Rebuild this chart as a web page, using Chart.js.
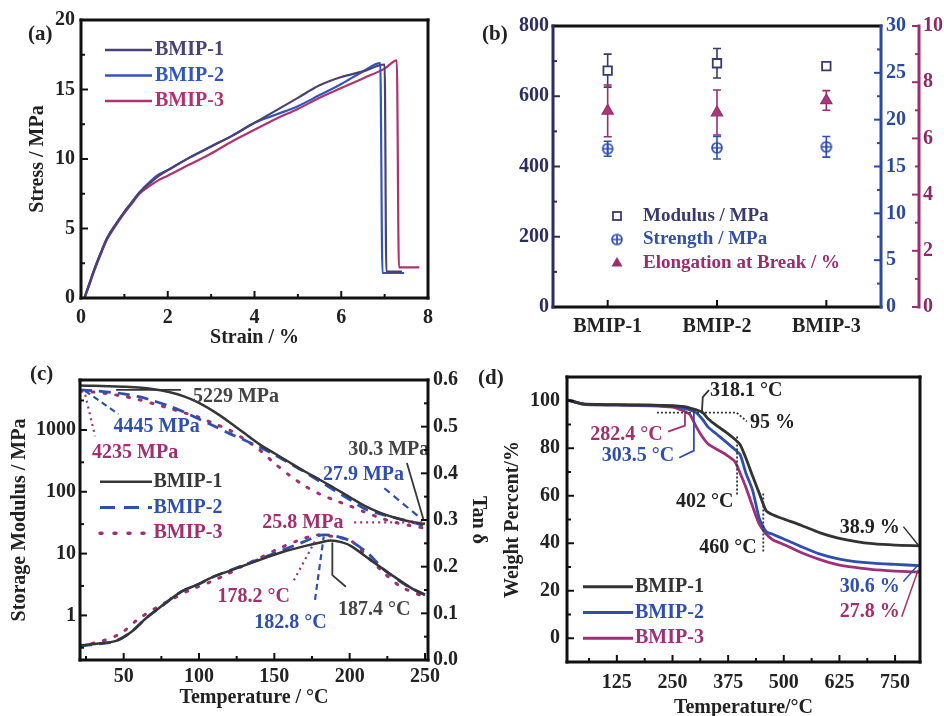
<!DOCTYPE html>
<html>
<head>
<meta charset="utf-8">
<script src="https://cdn.jsdelivr.net/npm/chart.js@4.4.1/dist/chart.umd.min.js"></script>
<style>
  body { margin: 0; width: 944px; height: 716px; overflow: hidden; background: #fff; position: relative; }
  canvas { position: absolute; }
  .tag { position: absolute; font: bold 21px "Liberation Serif", serif; color: #222; line-height: 24px; }
</style>
</head>
<body>
<canvas id="chartA" width="470" height="350" style="left:0;top:0"></canvas>
<canvas id="chartB" width="474" height="340" style="left:470px;top:0"></canvas>
<canvas id="chartC" width="500" height="376" style="left:0;top:340px"></canvas>
<canvas id="chartD" width="454" height="376" style="left:490px;top:344px"></canvas>
<div class="tag" style="left:28px;top:21px">(a)</div>
<div class="tag" style="left:482px;top:21px">(b)</div>
<div class="tag" style="left:30px;top:361px">(c)</div>
<div class="tag" style="left:478px;top:365px">(d)</div>
<script>
// ---- (a) tensile curves: strain (%) / stress (MPa)
const strainA1 = [0.08, 0.2, 0.3, 0.45, 0.6, 0.8, 1.0, 1.15, 1.35, 1.6, 1.8, 2.0, 2.5, 3.0, 3.5, 4.0, 4.5, 5.0, 5.5, 6.0, 6.5, 7.0, 7.04, 7.4];
const stressA1 = [0, 1.1, 2.0, 3.2, 4.3, 5.3, 6.2, 6.8, 7.6, 8.3, 8.8, 9.2, 10.1, 10.9, 11.7, 12.6, 13.5, 14.4, 15.3, 15.9, 16.3, 16.8, 1.9, 1.9];
const strainA2 = [0.08, 0.2, 0.3, 0.45, 0.6, 0.8, 1.0, 1.15, 1.35, 1.6, 1.8, 2.0, 2.5, 3.0, 3.5, 4.0, 4.5, 5.0, 5.5, 6.0, 6.5, 6.9, 6.95, 7.45];
const stressA2 = [0, 1.1, 2.0, 3.2, 4.3, 5.3, 6.2, 6.8, 7.6, 8.4, 8.9, 9.2, 10.1, 10.9, 11.7, 12.6, 13.2, 13.8, 14.6, 15.4, 16.3, 16.9, 1.8, 1.8];
const strainA3 = [0.08, 0.2, 0.3, 0.45, 0.6, 0.8, 1.0, 1.15, 1.35, 1.6, 1.8, 2.0, 2.5, 3.0, 3.5, 4.0, 4.5, 5.0, 5.5, 6.0, 6.5, 7.0, 7.28, 7.33, 7.8];
const stressA3 = [0, 1.0, 1.9, 3.1, 4.2, 5.2, 6.1, 6.7, 7.5, 8.1, 8.5, 8.8, 9.6, 10.4, 11.3, 12.1, 12.9, 13.6, 14.4, 15.1, 15.8, 16.5, 17.1, 2.2, 2.2];
const ticksAx = [0, 2, 4, 6, 8];
const ticksAy = [0, 5, 10, 15, 20];

// ---- (b) mechanical properties
const samples = ['BMIP-1', 'BMIP-2', 'BMIP-3'];
const modulus = [673, 694, 686];
const modulusErr = [47, 42, 10];
const strength = [16.9, 17.0, 17.1];
const strengthErr = [0.8, 1.2, 1.1];
const elongation = [6.98, 6.92, 7.35];
const elongationErr = [0.92, 0.8, 0.35];
const ticksBy = [0, 200, 400, 600, 800];
const ticksBy1 = [0, 5, 10, 15, 20, 25, 30];
const ticksBy2 = [0, 2, 4, 6, 8, 10];

// ---- (c) DMA: storage modulus (MPa) and tan delta
const dmaTemp = [21, 30, 40, 50, 60, 70, 80, 90, 100, 110, 120, 130, 140, 150, 160, 170, 180, 190, 200, 210, 220, 230, 240, 250];
const storage1 = [5229, 5180, 5100, 5000, 4850, 4550, 4100, 3500, 2750, 1980, 1350, 890, 590, 420, 300, 215, 158, 114, 82, 59, 46, 38, 33, 30.3];
const storage2 = [4445, 4300, 4100, 3850, 3450, 2950, 2450, 1950, 1500, 1160, 880, 690, 530, 400, 290, 210, 148, 105, 75, 53, 44, 38, 33, 27.9];
const storage3 = [4235, 4100, 3850, 3500, 3100, 2650, 2250, 1900, 1600, 1270, 1000, 710, 480, 290, 185, 125, 92, 73, 59, 47, 38, 32, 28.4, 25.8];
const tanTemp1 = [21, 35, 45, 55, 65, 75, 88, 100, 110, 122, 132, 145, 156, 170, 182, 187.4, 195, 201, 214, 228, 241, 250];
const tanDelta1 = [0.031, 0.036, 0.041, 0.06, 0.09, 0.115, 0.146, 0.163, 0.179, 0.193, 0.205, 0.22, 0.232, 0.244, 0.253, 0.256, 0.252, 0.244, 0.214, 0.182, 0.154, 0.139];
const tanTemp2 = [21, 35, 45, 55, 65, 75, 88, 100, 110, 122, 132, 145, 156, 170, 178, 182.8, 190, 200, 212, 223, 237, 250];
const tanDelta2 = [0.030, 0.035, 0.041, 0.06, 0.09, 0.115, 0.146, 0.163, 0.179, 0.194, 0.206, 0.222, 0.236, 0.254, 0.265, 0.268, 0.266, 0.256, 0.229, 0.193, 0.161, 0.14];
const tanTemp3 = [21, 35, 48, 59, 71, 83, 94, 108, 120, 128, 140, 151, 165, 178.2, 190, 201, 212, 223, 234, 250];
const tanDelta3 = [0.031, 0.04, 0.057, 0.086, 0.111, 0.132, 0.15, 0.168, 0.186, 0.2, 0.218, 0.236, 0.255, 0.268, 0.264, 0.255, 0.221, 0.186, 0.157, 0.135];
const ticksCx = [50, 100, 150, 200, 250];
const ticksCy = [1, 10, 100, 1000];
const ticksCy1 = [0, 0.1, 0.2, 0.3, 0.4, 0.5, 0.6];

// ---- (d) TGA: weight percent
const tgaTemp = [15, 50, 100, 150, 200, 250, 270, 282.4, 290, 303.5, 318.1, 330, 350, 370, 390, 402, 415, 430, 445, 460, 475, 500, 540, 580, 620, 660, 700, 750, 805];
const weight1 = [100.3, 98.7, 98.4, 98.3, 98.2, 97.9, 97.6, 97.3, 96.9, 96.2, 95.0, 92.4, 89.4, 86.8, 83.8, 81.5, 75.8, 68.3, 61.0, 53.8, 52.0, 50.2, 47.5, 44.5, 42.3, 40.8, 39.8, 39.2, 38.9];
const weight2 = [100.3, 98.6, 98.3, 98.2, 98.1, 97.7, 97.1, 96.5, 96.1, 95.0, 92.0, 88.9, 85.8, 82.7, 79.5, 77.3, 69.5, 62.3, 50.5, 45.0, 43.8, 41.8, 38.5, 35.5, 33.5, 32.3, 31.6, 31.1, 30.6];
const weight3 = [100.3, 98.5, 98.2, 98.1, 97.9, 97.3, 96.1, 95.0, 94.0, 89.0, 84.5, 81.8, 79.5, 77.3, 74.4, 69.5, 63.5, 55.5, 48.0, 44.0, 41.5, 39.5, 36.0, 33.2, 31.0, 29.8, 28.9, 28.3, 27.8];
const ticksDx = [125, 250, 375, 500, 625, 750];
const ticksDy = [0, 20, 40, 60, 80, 100];

const SERIF = '"Liberation Serif", "Times New Roman", serif';
const DARK = '#363636', BLUE = '#2f4fae', MAG = '#a2306f';

Chart.defaults.font.family = SERIF;
Chart.defaults.font.size = 20;
Chart.defaults.font.weight = 'bold';
Chart.defaults.color = '#222';
Chart.defaults.animation = false;
Chart.defaults.events = [];
Chart.defaults.plugins.legend.display = false;
Chart.defaults.plugins.tooltip.enabled = false;
Chart.defaults.elements.point.radius = 0;

const pairs = (xs, ys) => xs.map((x, i) => ({x: x, y: ys[i]}));
const fixW = w => s => { s.width = w; };
const fixH = h => s => { s.height = h; };
const setTicks = list => s => { s.ticks = list.map(v => ({value: v})); };
const axis = o => Object.assign({grid: {display: false, drawTicks: false}, border: {display: false}}, o);

// circle with cross, used for the strength marker
const strengthIcon = document.createElement('canvas');
strengthIcon.width = strengthIcon.height = 14;
(function () {
  const g = strengthIcon.getContext('2d');
  g.strokeStyle = '#2f50b0'; g.lineWidth = 1.7;
  g.beginPath(); g.arc(7, 7, 5, 0, Math.PI * 2); g.stroke();
  g.beginPath(); g.moveTo(2, 7); g.lineTo(12, 7); g.moveTo(7, 2); g.lineTo(7, 12); g.stroke();
})();

function drawMarker(ctx, kind, x, y, color) {
  ctx.save();
  ctx.strokeStyle = color; ctx.fillStyle = color; ctx.lineWidth = 1.8;
  if (kind === 'rect') {
    ctx.strokeRect(x - 4, y - 4, 8, 8);
  } else if (kind === 'circle') {
    ctx.drawImage(strengthIcon, x - 7, y - 7);
  } else {
    ctx.beginPath(); ctx.moveTo(x, y - 6); ctx.lineTo(x + 5.5, y + 3.5); ctx.lineTo(x - 5.5, y + 3.5); ctx.closePath();
    ctx.fill();
  }
  ctx.restore();
}

const deco = {
  id: 'deco',
  beforeDatasetsDraw(chart) {
    const ctx = chart.ctx;
    chart.data.datasets.forEach((ds, i) => {
      if (!ds.errorBars) return;
      const ys = chart.scales[ds.yAxisID];
      ctx.save();
      ctx.strokeStyle = ds.borderColor;
      ctx.lineWidth = 1.6;
      chart.getDatasetMeta(i).data.forEach((pt, j) => {
        const hi = ys.getPixelForValue(ds.data[j] + ds.errorBars[j]);
        const lo = ys.getPixelForValue(ds.data[j] - ds.errorBars[j]);
        ctx.beginPath();
        ctx.moveTo(pt.x, hi); ctx.lineTo(pt.x, lo);
        ctx.moveTo(pt.x - 4, hi); ctx.lineTo(pt.x + 4, hi);
        ctx.moveTo(pt.x - 4, lo); ctx.lineTo(pt.x + 4, lo);
        ctx.stroke();
      });
      ctx.restore();
    });
  },
  afterDraw(chart, args, o) {
    const ctx = chart.ctx, a = chart.chartArea, xs = chart.scales.x;
    ctx.save();
    (o.leaders || []).forEach(l => {
      const ys = chart.scales[l.axis || 'y'];
      ctx.strokeStyle = l.color;
      ctx.lineWidth = l.width || 1.8;
      ctx.setLineDash(l.dash || []);
      ctx.beginPath();
      l.pts.forEach((p, k) => {
        const px = xs.getPixelForValue(p[0]), py = ys.getPixelForValue(p[1]);
        if (k) ctx.lineTo(px, py); else ctx.moveTo(px, py);
      });
      ctx.stroke();
    });
    ctx.setLineDash([]);
    ctx.textBaseline = 'middle';
    ctx.font = 'bold 20px ' + SERIF;
    (o.notes || []).forEach(n => {
      const ys = chart.scales[n.axis || 'y'];
      ctx.fillStyle = n.color;
      ctx.textAlign = n.align || 'left';
      ctx.fillText(n.text, xs.getPixelForValue(n.x), ys.getPixelForValue(n.y));
    });
    if (o.legend) {
      const g = o.legend;
      ctx.font = 'bold ' + (g.size || 20) + 'px ' + SERIF;
      ctx.textAlign = 'left';
      g.items.forEach((it, k) => {
        const x = a.left + g.dx, y = a.top + g.dy + k * g.step;
        if (it.marker) {
          drawMarker(ctx, it.marker, x, y, it.color);
        } else {
          ctx.strokeStyle = it.color;
          ctx.lineWidth = it.width || 2.5;
          ctx.setLineDash(it.dash || []);
          ctx.lineCap = it.cap || 'butt';
          ctx.beginPath(); ctx.moveTo(x, y); ctx.lineTo(x + g.len, y); ctx.stroke();
          ctx.setLineDash([]); ctx.lineCap = 'butt';
        }
        ctx.fillStyle = it.color;
        ctx.fillText(it.text, x + g.textDx, y);
      });
    }
    // inward tick marks
    ctx.lineWidth = 2;
    (o.ticks || []).forEach(t => {
      const s = chart.scales[t.scale];
      ctx.strokeStyle = t.color || '#111';
      const mark = (v, len) => {
        const p = s.getPixelForValue(v);
        ctx.beginPath();
        if (t.side === 'bottom') { ctx.moveTo(p, a.bottom); ctx.lineTo(p, a.bottom - len); }
        else if (t.side === 'left') { ctx.moveTo(a.left, p); ctx.lineTo(a.left + len, p); }
        else { ctx.moveTo(s.left, p); ctx.lineTo(s.left - len, p); }
        ctx.stroke();
      };
      t.major.forEach(v => mark(v, 7));
      (t.minor || []).forEach(v => mark(v, 4));
    });
    // frame
    const f = o.frame || {};
    ctx.lineWidth = 3; ctx.lineCap = 'square';
    const side = (c, x1, y1, x2, y2) => { ctx.strokeStyle = c; ctx.beginPath(); ctx.moveTo(x1, y1); ctx.lineTo(x2, y2); ctx.stroke(); };
    side(f.top || '#111', a.left, a.top, a.right, a.top);
    side(f.bottom || '#111', a.left, a.bottom, a.right, a.bottom);
    side(f.left || '#111', a.left, a.top, a.left, a.bottom);
    side(f.right || '#111', a.right, a.top, a.right, a.bottom);
    (o.extraAxes || []).forEach(e => {
      const s = chart.scales[e.scale];
      side(e.color, s.left, a.top, s.left, a.bottom);
    });
    ctx.restore();
  }
};

// ---------- (a)
new Chart(document.getElementById('chartA'), {
  type: 'line',
  data: {datasets: [
    {data: pairs(strainA1, stressA1), borderColor: '#4a4174', borderWidth: 2.2, cubicInterpolationMode: 'monotone'},
    {data: pairs(strainA2, stressA2), borderColor: '#2f55c0', borderWidth: 2.2, cubicInterpolationMode: 'monotone'},
    {data: pairs(strainA3, stressA3), borderColor: '#b0336f', borderWidth: 2.2, cubicInterpolationMode: 'monotone'}
  ]},
  options: {
    responsive: false,
    layout: {padding: {top: 20, right: 42, bottom: 0, left: 0}},
    scales: {
      x: axis({type: 'linear', min: 0, max: 8, afterBuildTicks: setTicks(ticksAx), afterFit: fixH(52),
        ticks: {padding: 8, maxRotation: 0, autoSkip: false},
        title: {display: true, text: 'Strain / %', padding: 0}}),
      y: axis({type: 'linear', min: 0, max: 20, afterBuildTicks: setTicks(ticksAy), afterFit: fixW(81),
        ticks: {padding: 6, autoSkip: false},
        title: {display: true, text: 'Stress / MPa', padding: {top: 26, bottom: 0}}})
    },
    plugins: {deco: {
      legend: {dx: 24, dy: 30, step: 25.5, len: 47, textDx: 50, items: [
        {text: 'BMIP-1', color: '#4a4174'},
        {text: 'BMIP-2', color: '#2f55c0'},
        {text: 'BMIP-3', color: '#b0336f'}
      ]},
      ticks: [
        {scale: 'x', side: 'bottom', major: ticksAx, minor: [1, 3, 5, 7]},
        {scale: 'y', side: 'left', major: ticksAy, minor: [2.5, 7.5, 12.5, 17.5]}
      ]
    }}
  },
  plugins: [deco]
});

// ---------- (b)
new Chart(document.getElementById('chartB'), {
  type: 'line',
  data: {labels: samples, datasets: [
    {data: modulus, errorBars: modulusErr, yAxisID: 'y', showLine: false, pointStyle: 'rect', pointRadius: 6,
      borderColor: '#3b3b6b', backgroundColor: '#fff', pointBorderWidth: 1.8},
    {data: strength, errorBars: strengthErr, yAxisID: 'y1', showLine: false, pointStyle: strengthIcon, pointRadius: 7,
      borderColor: '#2f50b0', backgroundColor: '#2f50b0'},
    {data: elongation, errorBars: elongationErr, yAxisID: 'y2', showLine: false, pointStyle: 'triangle', pointRadius: 6.5,
      borderColor: '#9c2d6d', backgroundColor: '#a8387a', pointBorderWidth: 1.2}
  ]},
  options: {
    responsive: false,
    layout: {padding: {top: 26, right: 0, bottom: 0, left: 0}},
    scales: {
      x: axis({type: 'category', offset: true, afterFit: fixH(33), ticks: {padding: 8, maxRotation: 0, autoSkip: false}}),
      y: axis({position: 'left', min: 0, max: 800, afterBuildTicks: setTicks(ticksBy), afterFit: fixW(83),
        ticks: {padding: 4, color: '#2d2d5e'}}),
      y1: axis({position: 'right', weight: 0, min: 0, max: 30, afterBuildTicks: setTicks(ticksBy1), afterFit: fixW(38),
        ticks: {padding: 5, color: '#2a4aa0'}}),
      y2: axis({position: 'right', weight: 1, min: 0, max: 10, afterBuildTicks: setTicks(ticksBy2), afterFit: fixW(25),
        ticks: {padding: 4, color: '#8c2a68'}})
    },
    plugins: {deco: {
      legend: {dx: 64, dy: 190, step: 23.5, textDx: 26, size: 19, items: [
        {text: 'Modulus / MPa', color: '#3b3b6b', marker: 'rect'},
        {text: 'Strength / MPa', color: '#2f50b0', marker: 'circle'},
        {text: 'Elongation at Break / %', color: '#9c2d6d', marker: 'tri'}
      ]},
      ticks: [
        {scale: 'x', side: 'bottom', major: [0, 1, 2]},
        {scale: 'y', side: 'left', major: ticksBy, minor: [100, 300, 500, 700], color: '#2d2d5e'},
        {scale: 'y1', side: 'right', major: ticksBy1, minor: [2.5, 7.5, 12.5, 17.5, 22.5, 27.5], color: '#2a4aa0'},
        {scale: 'y2', side: 'right', major: ticksBy2, minor: [1, 3, 5, 7, 9], color: '#9a2f70'}
      ],
      frame: {left: '#2d2d5e', right: '#2a4aa0'},
      extraAxes: [{scale: 'y2', color: '#9a2f70'}]
    }}
  },
  plugins: [deco]
});

// ---------- (c)
new Chart(document.getElementById('chartC'), {
  type: 'line',
  data: {datasets: [
    {data: pairs(dmaTemp, storage1), yAxisID: 'y', borderColor: DARK, borderWidth: 2.5, tension: 0.3},
    {data: pairs(dmaTemp, storage2), yAxisID: 'y', borderColor: BLUE, borderWidth: 2.8, borderDash: [12, 7], tension: 0.3},
    {data: pairs(dmaTemp, storage3), yAxisID: 'y', borderColor: MAG, borderWidth: 3, borderDash: [2, 10], borderCapStyle: 'round', tension: 0.3},
    {data: pairs(tanTemp1, tanDelta1), yAxisID: 'y1', borderColor: DARK, borderWidth: 2.5, tension: 0.3},
    {data: pairs(tanTemp2, tanDelta2), yAxisID: 'y1', borderColor: BLUE, borderWidth: 2.8, borderDash: [12, 7], tension: 0.3},
    {data: pairs(tanTemp3, tanDelta3), yAxisID: 'y1', borderColor: MAG, borderWidth: 3, borderDash: [2, 10], borderCapStyle: 'round', tension: 0.3}
  ]},
  options: {
    responsive: false,
    layout: {padding: {top: 40, right: 0, bottom: 0, left: 0}},
    scales: {
      x: axis({type: 'linear', min: 21, max: 252, afterBuildTicks: setTicks(ticksCx), afterFit: fixH(56),
        ticks: {padding: 5, maxRotation: 0, autoSkip: false},
        title: {display: true, text: 'Temperature / °C', padding: {top: 0, bottom: 6}}}),
      y: axis({type: 'logarithmic', position: 'left', min: 0.19, max: 6430, afterBuildTicks: setTicks(ticksCy), afterFit: fixW(80),
        ticks: {padding: 4, autoSkip: false, callback: v => String(v)},
        title: {display: true, text: 'Storage Modulus / MPa', padding: {top: 8, bottom: 0}}}),
      y1: axis({type: 'linear', position: 'right', min: 0, max: 0.6, afterBuildTicks: setTicks(ticksCy1), afterFit: fixW(72),
        ticks: {padding: 5, autoSkip: false, callback: v => v.toFixed(1)},
        title: {display: true, text: 'Tan δ', padding: {top: 10, bottom: 0}}})
    },
    plugins: {deco: {
      leaders: [
        {pts: [[45, 4450], [88, 4450]], color: DARK},
        {pts: [[24.5, 4270], [46.5, 1810]], color: BLUE, dash: [6, 4], width: 2.2},
        {pts: [[24.5, 3700], [31, 790]], color: MAG, dash: [2, 4], width: 2.2},
        {pts: [[238, 293], [249, 35.5]], color: DARK},
        {pts: [[223, 114], [245.6, 40]], color: BLUE, dash: [7, 5], width: 2.2},
        {pts: [[203, 32], [249, 32]], color: MAG, dash: [2, 4], width: 2.2},
        {pts: [[163, 0.171], [178.2, 0.262]], axis: 'y1', color: MAG, dash: [2, 4], width: 2.2},
        {pts: [[177, 0.129], [182.8, 0.265]], axis: 'y1', color: BLUE, dash: [6, 4], width: 2.2},
        {pts: [[188.5, 0.252], [188.5, 0.182], [197.5, 0.157]], axis: 'y1', color: DARK}
      ],
      notes: [
        {text: '5229 MPa', x: 96, y: 3415, color: '#444'},
        {text: '4445 MPa', x: 43.3, y: 1130, color: BLUE},
        {text: '4235 MPa', x: 29, y: 425, color: MAG},
        {text: '30.3 MPa', x: 199, y: 481, color: '#444'},
        {text: '27.9 MPa', x: 182.3, y: 190, color: BLUE},
        {text: '25.8 MPa', x: 142, y: 32, color: MAG},
        {text: '178.2 °C', x: 112.2, y: 0.136, axis: 'y1', color: MAG},
        {text: '182.8 °C', x: 136.7, y: 0.079, axis: 'y1', color: BLUE},
        {text: '187.4 °C', x: 192.2, y: 0.107, axis: 'y1', color: '#444'}
      ],
      legend: {dx: 20, dy: 101.7, step: 25.8, len: 52, textDx: 53.5, items: [
        {text: 'BMIP-1', color: DARK, width: 2.5},
        {text: 'BMIP-2', color: BLUE, width: 3, dash: [15, 9]},
        {text: 'BMIP-3', color: MAG, width: 3.5, dash: [2, 12], cap: 'round'}
      ]},
      ticks: [
        {scale: 'x', side: 'bottom', major: ticksCx, minor: [25, 75, 125, 175, 225]},
        {scale: 'y', side: 'left', major: ticksCy, minor: [0.3, 3, 30, 300, 3000]},
        {scale: 'y1', side: 'right', major: ticksCy1, minor: [0.05, 0.15, 0.25, 0.35, 0.45, 0.55]}
      ]
    }}
  },
  plugins: [deco]
});

// ---------- (d)
new Chart(document.getElementById('chartD'), {
  type: 'line',
  data: {datasets: [
    {data: pairs(tgaTemp, weight1), borderColor: '#333', borderWidth: 2.8, tension: 0.2},
    {data: pairs(tgaTemp, weight2), borderColor: '#2e4fb0', borderWidth: 2.8, tension: 0.2},
    {data: pairs(tgaTemp, weight3), borderColor: '#9e2f78', borderWidth: 2.8, tension: 0.2}
  ]},
  options: {
    responsive: false,
    layout: {padding: {top: 33, right: 24, bottom: 0, left: 0}},
    scales: {
      x: axis({type: 'linear', min: 13, max: 806, afterBuildTicks: setTicks(ticksDx), afterFit: fixH(58),
        ticks: {padding: 9, maxRotation: 0, autoSkip: false},
        title: {display: true, text: 'Temperature/°C', padding: 0}}),
      y: axis({type: 'linear', min: -10, max: 110, afterBuildTicks: setTicks(ticksDy), afterFit: fixW(77),
        ticks: {padding: 7, autoSkip: false},
        title: {display: true, text: 'Weight Percent/%', padding: {top: 11, bottom: 0}}})
    },
    plugins: {deco: {
      leaders: [
        {pts: [[215, 95], [394, 95], [417, 91.3]], color: '#333', dash: [2, 2], width: 1.8},
        {pts: [[316, 95], [318, 101.5], [332, 104.5]], color: '#333', width: 1.8},
        {pts: [[240, 87], [278, 89.5], [278, 95]], color: MAG, width: 1.8},
        {pts: [[265, 76], [298, 79], [298, 95]], color: BLUE, width: 1.8},
        {pts: [[395, 85], [395, 60.4]], color: '#333', dash: [2, 2], width: 1.8},
        {pts: [[454, 61], [454, 36.5]], color: '#333', dash: [2, 2], width: 1.8},
        {pts: [[768.6, 47], [802, 39.3]], color: '#333', width: 1.5},
        {pts: [[768.6, 23.9], [802, 30.9]], color: BLUE, width: 1.5},
        {pts: [[765, 9.1], [802, 28.8]], color: MAG, width: 1.5}
      ],
      notes: [
        {text: '318.1 °C', x: 334, y: 104.2, color: '#222'},
        {text: '95 %', x: 424, y: 90.5, color: '#222'},
        {text: '282.4 °C', x: 65, y: 85.6, color: MAG},
        {text: '303.5 °C', x: 91, y: 76.7, color: BLUE},
        {text: '402 °C', x: 387, y: 57.6, color: '#222', align: 'right'},
        {text: '460 °C', x: 439, y: 37.9, color: '#222', align: 'right'},
        {text: '38.9 %', x: 626, y: 46.3, color: '#222'},
        {text: '30.6 %', x: 626, y: 21.7, color: BLUE},
        {text: '27.8 %', x: 626, y: 11.2, color: MAG}
      ],
      legend: {dx: 16, dy: 209.7, step: 25.8, len: 50, textDx: 52, items: [
        {text: 'BMIP-1', color: '#333', width: 3},
        {text: 'BMIP-2', color: '#2e4fb0', width: 3},
        {text: 'BMIP-3', color: '#9e2f78', width: 3}
      ]},
      ticks: [
        {scale: 'x', side: 'bottom', major: ticksDx, minor: [62.5, 187.5, 312.5, 437.5, 562.5, 687.5]},
        {scale: 'y', side: 'left', major: ticksDy, minor: [10, 30, 50, 70, 90]}
      ]
    }}
  },
  plugins: [deco]
});
</script>
</body>
</html>
